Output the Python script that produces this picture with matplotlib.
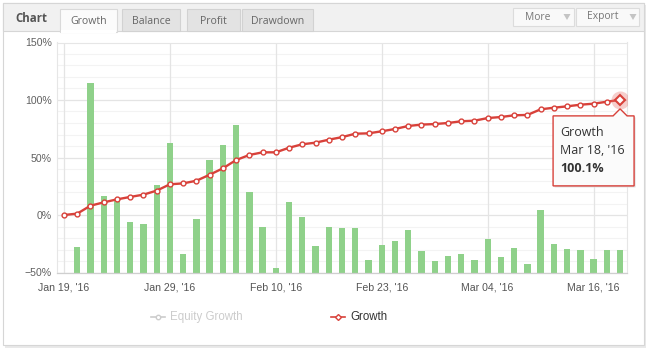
import matplotlib
matplotlib.use('Agg')
import matplotlib.pyplot as plt
from matplotlib.patches import Rectangle, Polygon
from matplotlib import font_manager as fm
import numpy as np
import pandas as pd

# ---------------- data ----------------
dates = pd.bdate_range('2016-01-19', '2016-03-18')
dates = dates[dates != pd.Timestamp('2016-02-15')]
date_labels = [d.strftime("%b %d, '%y") for d in dates]

growth = [0.0, 1.2, 8.1, 11.0, 13.6, 15.7, 17.7, 21.2, 26.7, 27.5, 29.8, 35.0, 40.6,
          47.8, 52.2, 54.5, 54.5, 58.5, 61.5, 62.9, 65.5, 67.7, 70.7, 71.0, 72.8,
          74.8, 77.4, 78.6, 79.1, 80.0, 81.5, 82.0, 84.3, 85.2, 86.7, 87.0, 91.9,
          93.3, 94.5, 95.9, 96.8, 98.5, 100.1]

bar_tops = [np.nan, -27.6, 114.5, 16.8, 12.8, -6.4, -8.1, 25.8, 62.3, -34.2, -3.8,
            47.5, 60.6, 78.0, 19.7, -10.1, -46.1, 11.0, -2.0, -27.3, -10.1, -11.6,
            -11.6, -39.4, -26.4, -22.9, -13.3, -31.6, -40.3, -35.9, -34.2, -39.4,
            -21.2, -36.8, -29.0, -42.9, 4.1, -25.5, -29.9, -30.7, -38.5, -30.7, -30.7]

y_ticks = [-50, 0, 50, 100, 150]
y_tick_labels = ['\u221250%', '0%', '50%', '100%', '150%']
tabs = ['Growth', 'Balance', 'Profit', 'Drawdown']
legend_items = ['Equity Growth', 'Growth']

# ---------------- fonts ----------------
names = {f.name for f in fm.fontManager.ttflist}
SANS = 'Liberation Sans'
OPEN = 'Open Sans' if 'Open Sans' in names else 'DejaVu Sans'

W, H = 651, 359
fig = plt.figure(figsize=(W / 100, H / 100), dpi=100)
fig.patch.set_facecolor('white')

# background / decoration axes in pixel coordinates
bg = fig.add_axes([0, 0, 1, 1], zorder=0)
bg.set_xlim(0, W)
bg.set_ylim(H, 0)
bg.axis('off')

# panel shadow and panel
bg.add_patch(Rectangle((5, 5), 641, 343, fc='#e9e9e9', ec='none'))
bg.add_patch(Rectangle((3, 3), 641, 342, fc='white', ec='#d6d6d6', lw=0.8))
# header
bg.add_patch(Rectangle((3, 3), 641, 28, fc='#f1f1f1', ec='#d6d6d6', lw=0.8))
bg.text(15, 19, 'Chart', fontsize=8.3, fontweight='bold', color='#555555',
        family=OPEN, va='center', ha='left')

tab_boxes = [(60, 57), (122, 58), (187, 53), (242, 71)]
for i, (name, (tx, tw)) in enumerate(zip(tabs, tab_boxes)):
    if i == 0:
        bg.add_patch(Rectangle((tx, 9), tw, 23, fc='#fbfbfb', ec='#d9d9d9', lw=0.8, zorder=3))
        bg.add_patch(Rectangle((tx + 0.6, 30), tw - 1.2, 3, fc='white', ec='none', zorder=4))
    else:
        bg.add_patch(Rectangle((tx, 9), tw, 22, fc='#e3e3e3', ec='#d2d2d2', lw=0.8, zorder=3))
    bg.text(tx + tw / 2, 21, name, fontsize=7.6, color='#666666', family=OPEN,
            ha='center', va='center', zorder=5)

# buttons
for label, bx, bw, tx_c, tri_x in [('More', 513, 61, 538, 567), ('Export', 576, 63, 603, 633)]:
    bg.add_patch(Rectangle((bx, 8), bw, 18, fc='#f9f9f9', ec='#dcdcdc', lw=0.8, zorder=3))
    bg.text(tx_c, 17, label, fontsize=7.4, color='#777777', family=OPEN,
            ha='center', va='center', zorder=5)
    bg.add_patch(Polygon([(tri_x - 3.5, 14), (tri_x + 3.5, 14), (tri_x, 20)],
                         closed=True, fc='#c4c4c4', ec='none', zorder=5))

# ---------------- chart axes ----------------
n = len(growth)
x = np.arange(n)
step = 13.24
left_px = 64 - 0.5 * step
top_px, bot_px = 42.5, 272.5
ax = fig.add_axes([left_px / W, (H - bot_px) / H, (n * step) / W, (bot_px - top_px) / H], zorder=2)
ax.set_facecolor('none')
ax.set_xlim(-0.5, n - 0.5)
ax.set_ylim(-50, 150)

# grid
for v in range(-50, 151, 10):
    if v % 50 == 0:
        ax.axhline(v, color='#e4e4e4', lw=0.9, zorder=1)
    else:
        ax.axhline(v, color='#f3f3f3', lw=0.8, zorder=0.9)
for i in range(0, n, 8):
    ax.axvline(i, color='#e4e4e4', lw=0.9, zorder=1)

# bars from the bottom of the axis
tops = np.array(bar_tops, dtype=float)
ax.bar(x, tops - (-50), bottom=-50, width=0.48, color='#8fd18a', edgecolor='none', zorder=2)

# growth line
ax.plot(x, growth, color='#d8413a', lw=1.7, zorder=4, marker='o', markersize=3.5,
        markerfacecolor='white', markeredgecolor='#d8413a', markeredgewidth=1.0)

# hovered last point
ax.plot(x[-1], growth[-1], marker='o', markersize=13, color='#e8736d', alpha=0.35,
        mec='none', zorder=5)
ax.plot(x[-1], growth[-1], marker='D', markersize=5.2, mfc='white', mec='#d8413a',
        mew=1.5, zorder=6)

ax.set_yticks(y_ticks)
ax.set_yticklabels(y_tick_labels)
tick_idx = list(range(0, n, 8))
ax.set_xticks(tick_idx)
ax.set_xticklabels([date_labels[i] for i in tick_idx])
ax.tick_params(axis='both', length=0)
ax.tick_params(axis='y', pad=4, labelsize=7.6, labelcolor='#606060')
ax.tick_params(axis='x', pad=7, labelsize=7.6, labelcolor='#555555')
for t in ax.get_yticklabels() + ax.get_xticklabels():
    t.set_family(SANS)
for s in ['left', 'right', 'top']:
    ax.spines[s].set_color('#e6e6e6')
    ax.spines[s].set_linewidth(0.8)
ax.spines['bottom'].set_color('#cfcfcf')
ax.spines['bottom'].set_linewidth(0.9)

# ---------------- legend ----------------
ly = 317
bg.plot([151, 165], [ly, ly], color='#cccccc', lw=1.2)
bg.plot([158], [ly], marker='o', markersize=3.2, mfc='white', mec='#cccccc', mew=1.0)
bg.text(170, ly, legend_items[0], fontsize=8.3, color='#cccccc', family=SANS,
        va='center', ha='left')
bg.plot([331, 345], [ly, ly], color='#d8413a', lw=1.2)
bg.plot([338], [ly], marker='D', markersize=3.0, mfc='white', mec='#d8413a', mew=1.0)
bg.text(350, ly, legend_items[1], fontsize=8.3, color='#333333', family=SANS,
        va='center', ha='left')

# ---------------- tooltip (overlay) ----------------
ov = fig.add_axes([0, 0, 1, 1], zorder=10)
ov.set_xlim(0, W)
ov.set_ylim(H, 0)
ov.axis('off')
ov.patch.set_alpha(0)

fig.canvas.draw()
px, py = ax.transData.transform((x[-1], growth[-1]))
py = H - py
tl, tr = px - 67, px + 14
tt, tb = py + 16, py + 86
outline = [(tl, tt), (px - 7, tt), (px, py + 9), (px + 7, tt), (tr, tt), (tr, tb), (tl, tb)]
shadow = [(a + 1.5, b + 1.5) for a, b in outline]
ov.add_patch(Polygon(shadow, closed=True, fc='#dddddd', ec='none', zorder=7))
ov.add_patch(Polygon(outline, closed=True, fc='#fbfbfb', ec='#d8413a', lw=1.0, zorder=8))
ov.text(tl + 7, tt + 17, 'Growth', fontsize=9, color='#333333', family=OPEN,
        va='center', ha='left', zorder=9)
ov.text(tl + 7, tt + 35, dates[-1].strftime("%b %d, '%y"), fontsize=9, color='#333333',
        family=OPEN, va='center', ha='left', zorder=9)
ov.text(tl + 7, tt + 53, f'{growth[-1]:.1f}%', fontsize=9, fontweight='bold',
        color='#333333', family=OPEN, va='center', ha='left', zorder=9)

fig.savefig('out.png', dpi=100, facecolor='white')
